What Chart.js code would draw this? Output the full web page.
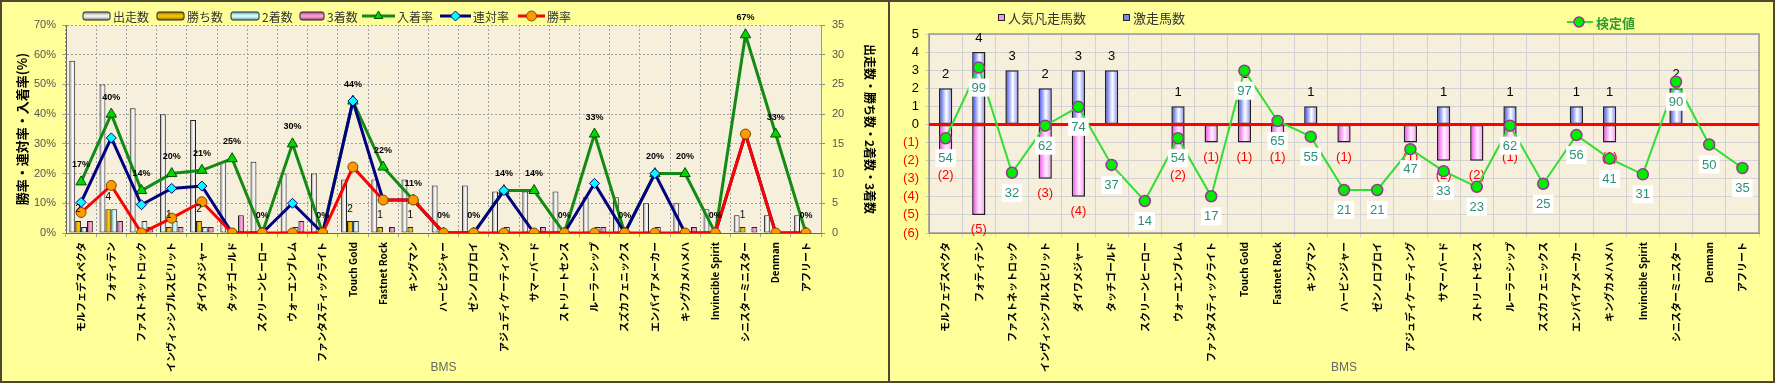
<!DOCTYPE html>
<html lang="ja">
<head>
<meta charset="utf-8">
<title>BMS</title>
<script src="https://cdn.jsdelivr.net/npm/chart.js@4.4.1/dist/chart.umd.min.js"></script>
<style>
  html, body { margin: 0; padding: 0; background: #FFFF99; }
  #wrap { position: relative; width: 1775px; height: 383px; overflow: hidden; }
  .panel { position: absolute; top: 0; height: 383px; box-sizing: border-box; border: 2px solid #4A4A30; background: #FFFF99; }
  #leftPanel { left: 0; width: 890px; }
  #rightPanel { left: 890px; width: 885px; border-left: none; }
  canvas { display: block; }
</style>
</head>
<body>
<div id="wrap">
  <div class="panel" id="leftPanel"><canvas id="bmsChart" width="886" height="379"></canvas></div>
  <div class="panel" id="rightPanel"><canvas id="scoreChart" width="883" height="379"></canvas></div>
</div>
<script>
const bmsNames = ['モルフェデスペクタ', 'フォティテン', 'ファストネットロック', 'インヴィンシブルスピリット', 'ダイワメジャー',
  'タッチゴールド', 'スクリーンヒーロー', 'ウォーエンブレム', 'ファンタスティックライト', 'Touch Gold', 'Fastnet Rock',
  'キングマン', 'ハービンジャー', 'ゼンノロブロイ', 'アジュディケーティング', 'サマーバード', 'ストリートセンス',
  'ルーラーシップ', 'スズカフェニックス', 'エンパイアメーカー', 'キングカメハメハ', 'Invincible Spirit',
  'シニスターミニスター', 'Denman', 'アフリート'];

// left chart - counts (right axis)
const starts  = [29, 25, 21, 20, 19, 12, 12, 10, 10, 9, 9, 9, 8, 8, 7, 7, 7, 6, 6, 5, 5, 4, 3, 3, 3];
const wins    = [2, 4, 0, 1, 2, 0, 0, 0, 0, 2, 1, 1, 0, 0, 0, 0, 0, 0, 0, 0, 0, 0, 1, 0, 0];
const seconds = [1, 4, 2, 2, 1, 0, 0, 1, 0, 2, 0, 0, 0, 0, 1, 0, 0, 1, 0, 1, 0, 0, 0, 0, 0];
const thirds  = [2, 2, 1, 1, 1, 3, 0, 2, 0, 0, 1, 0, 0, 0, 0, 1, 0, 1, 0, 0, 1, 0, 1, 0, 0];
// left chart - rates in % (left axis)
const placeRate  = [17.2, 40, 14.3, 20, 21.1, 25, 0, 30, 0, 44.4, 22.2, 11.1, 0, 0, 14.3, 14.3, 0, 33.3, 0, 20, 20, 0, 66.7, 33.3, 0];
const rentaiRate = [10.3, 32, 9.5, 15, 15.8, 0, 0, 10, 0, 44.4, 11.1, 11.1, 0, 0, 14.3, 0, 0, 16.7, 0, 20, 0, 0, 33.3, 0, 0];
const winRate    = [6.9, 16, 0, 5, 10.5, 0, 0, 0, 0, 22.2, 11.1, 11.1, 0, 0, 0, 0, 0, 0, 0, 0, 0, 0, 33.3, 0, 0];

// right chart
const hitCounts  = [2, 4, 3, 2, 3, 3, 0, 1, 0, 2, 0, 1, 0, 0, 0, 1, 0, 1, 0, 1, 1, 0, 2, 0, 0];
const flopCounts = [-2, -5, 0, -3, -4, 0, 0, -2, -1, -1, -1, 0, -1, 0, -1, -2, -2, -1, 0, 0, -1, 0, 0, 0, 0];
const scores     = [54, 99, 32, 62, 74, 37, 14, 54, 17, 97, 65, 55, 21, 21, 47, 33, 23, 62, 25, 56, 41, 31, 90, 50, 35];
const diffTickLabels = ['(6)', '(5)', '(4)', '(3)', '(2)', '(1)', '0', '1', '2', '3', '4', '5'];

Chart.defaults.font.family = '"Noto Sans CJK JP", "Noto Sans", sans-serif';
Chart.defaults.animation = false;
const numFont = '"Liberation Sans", Arial, sans-serif';

// bar colours: edge, centre, other edge
const startCol  = ['#8E8E8E', '#FFFFFF', '#C8C8C8'];
const winCol    = ['#9C7400', '#FFCC00', '#C89800'];
const secondCol = ['#6AAFC0', '#E4FFFF', '#A8DDE8'];
const thirdCol  = ['#B0488C', '#FFA8DC', '#D878B8'];
const hitCol    = ['#2F40F0', '#FFFFFF', '#7C86F2'];
const flopCol   = ['#F040E8', '#FFF0FF', '#F890F0'];

function barGradient(colors, slot, slots, groupFrac) {
  return function (c) {
    const chart = c.chart;
    const xs = chart.scales.x;
    if (c.type !== 'data' || !chart.chartArea || !xs) return colors[1];
    const groupW = xs.width / bmsNames.length * groupFrac;
    const w = groupW / slots;
    const left = xs.getPixelForValue(c.dataIndex) - groupW / 2 + slot * w;
    const g = chart.ctx.createLinearGradient(left, 0, left + w, 0);
    g.addColorStop(0, colors[0]);
    g.addColorStop(0.55, colors[1]);
    g.addColorStop(1, colors[2]);
    return g;
  };
}

const plotBackground = {
  id: 'plotBackground',
  beforeDraw(chart) {
    const {ctx, chartArea: a} = chart;
    ctx.save();
    ctx.fillStyle = '#F6EFDB';
    ctx.fillRect(a.left, a.top, a.width, a.height);
    ctx.restore();
  }
};

function legendBar(ctx, x, y, w, h, colors) {
  const g = ctx.createLinearGradient(0, y - h / 2, 0, y + h / 2);
  g.addColorStop(0, colors[0]);
  g.addColorStop(0.5, colors[1]);
  g.addColorStop(1, colors[0]);
  ctx.fillStyle = g;
  ctx.strokeStyle = '#222';
  ctx.lineWidth = 1;
  ctx.beginPath();
  ctx.roundRect(x, y - h / 2, w, h, 2);
  ctx.fill();
  ctx.stroke();
}

function legendLine(ctx, x, y, w, d) {
  ctx.strokeStyle = d.borderColor;
  ctx.lineWidth = d.borderWidth;
  ctx.beginPath();
  ctx.moveTo(x, y);
  ctx.lineTo(x + w, y);
  ctx.stroke();
  ctx.fillStyle = d.pointBackgroundColor;
  ctx.strokeStyle = d.pointBorderColor;
  ctx.lineWidth = 1;
  Chart.helpers.drawPoint(ctx, {pointStyle: d.pointStyle, rotation: 0, radius: 5, borderWidth: 1}, x + w / 2, y);
}

// ---------------- left chart ----------------
const leftLegend = {
  id: 'leftLegend',
  afterDraw(chart) {
    const ctx = chart.ctx;
    const ds = chart.data.datasets;
    const y = 14;
    const items = [[0, 81, 111, startCol], [1, 155, 185, winCol], [2, 229, 260, secondCol], [3, 298, 325, thirdCol],
      [4, 360, 395], [5, 438, 471], [6, 516, 545]];
    ctx.save();
    ctx.font = '12px "Noto Sans CJK JP", sans-serif';
    ctx.textBaseline = 'middle';
    items.forEach(([i, x, tx, col]) => {
      const d = ds[i];
      if (d.type === 'line') legendLine(ctx, x, y, tx - x - 2, d);
      else legendBar(ctx, x, y, tx - x - 3, 8, col);
      ctx.fillStyle = '#333';
      ctx.fillText(d.label, tx, y + 1);
    });
    ctx.restore();
  }
};

const leftLabels = {
  id: 'leftLabels',
  afterDatasetsDraw(chart) {
    const ctx = chart.ctx;
    ctx.save();
    ctx.textAlign = 'center';
    ctx.textBaseline = 'middle';
    ctx.fillStyle = '#000';
    ctx.font = 'bold 9px ' + numFont;
    chart.getDatasetMeta(4).data.forEach((pt, i) => {
      ctx.fillText(Math.round(placeRate[i]) + '%', pt.x, pt.y - 17);
    });
    ctx.font = '10px ' + numFont;
    chart.getDatasetMeta(1).data.forEach((bar, i) => {
      if (wins[i] > 0) ctx.fillText(wins[i], bar.x, bar.y - 12);
    });
    ctx.restore();
  }
};

const dotted = {color: '#A0A0A0', lineWidth: 1, tickLength: 4};

new Chart(document.getElementById('bmsChart').getContext('2d'), {
  type: 'bar',
  data: {
    labels: bmsNames,
    datasets: [
      {label: '出走数', data: starts, yAxisID: 'y1', backgroundColor: barGradient(startCol, 0, 4, 0.78), order: 4},
      {label: '勝ち数', data: wins, yAxisID: 'y1', backgroundColor: barGradient(winCol, 1, 4, 0.78), order: 4},
      {label: '2着数', data: seconds, yAxisID: 'y1', backgroundColor: barGradient(secondCol, 2, 4, 0.78), order: 4},
      {label: '3着数', data: thirds, yAxisID: 'y1', backgroundColor: barGradient(thirdCol, 3, 4, 0.78), order: 4},
      {type: 'line', label: '入着率', data: placeRate, yAxisID: 'y', borderColor: '#138A13', borderWidth: 3,
        pointStyle: 'triangle', pointRadius: 6, pointBackgroundColor: '#00D800', pointBorderColor: '#005000', pointBorderWidth: 1, order: 3},
      {type: 'line', label: '連対率', data: rentaiRate, yAxisID: 'y', borderColor: '#000080', borderWidth: 3,
        pointStyle: 'rectRot', pointRadius: 5, pointBackgroundColor: '#00FFFF', pointBorderColor: '#000080', pointBorderWidth: 1, order: 2},
      {type: 'line', label: '勝率', data: winRate, yAxisID: 'y', borderColor: '#FF0000', borderWidth: 3,
        pointStyle: 'circle', pointRadius: 5, pointBackgroundColor: '#FF9900', pointBorderColor: '#7A4A00', pointBorderWidth: 1, order: 1}
    ].map(d => d.type === 'line' ? d : Object.assign(d, {borderColor: '#222', borderWidth: 1, borderSkipped: false,
      categoryPercentage: 0.78, barPercentage: 1.0}))
  },
  options: {
    responsive: false,
    layout: {padding: {top: 23, left: 0, right: 0, bottom: 0}},
    plugins: {legend: {display: false}, tooltip: {enabled: false}},
    scales: {
      x: {
        afterFit: s => { s.height = 148; },
        grid: dotted,
        border: {color: '#666', dash: [2, 2]},
        ticks: {autoSkip: false, minRotation: 90, maxRotation: 90, padding: 5, color: '#000', font: {size: 10, weight: 'bold'}},
        title: {display: true, text: 'BMS', color: '#666', font: {size: 12, family: numFont}, padding: {top: 0, bottom: 6}}
      },
      y: {
        position: 'left', min: 0, max: 70,
        afterFit: s => { s.width = 64; },
        grid: dotted,
        border: {color: '#666', dash: [2, 2]},
        ticks: {stepSize: 10, autoSkip: false, padding: 6, color: '#555', font: {size: 11, family: numFont}, callback: v => v + '%'},
        title: {display: true, text: '勝率・連対率・入着率(%)', color: '#000', font: {size: 13, weight: 'bold'}, padding: {top: 12, bottom: 0}}
      },
      y1: {
        position: 'right', min: 0, max: 35,
        afterFit: s => { s.width = 67; },
        grid: {drawOnChartArea: false, tickLength: 4, color: '#888'},
        border: {color: '#999'},
        ticks: {stepSize: 5, autoSkip: false, padding: 7, color: '#555', font: {size: 11, family: numFont}},
        title: {display: true, text: '出走数・勝ち数・2着数・3着数', color: '#000', font: {size: 12, weight: 'bold'}, padding: {top: 11, bottom: 0}}
      }
    }
  },
  plugins: [plotBackground, leftLegend, leftLabels]
});

// ---------------- right chart ----------------
const rightLegend = {
  id: 'rightLegend',
  afterDraw(chart) {
    const ctx = chart.ctx;
    const line = chart.data.datasets[2];
    ctx.save();
    ctx.textBaseline = 'middle';
    ctx.font = '13px "Noto Sans CJK JP", sans-serif';
    [[flopCol, 108, '人気凡走馬数'], [hitCol, 233, '激走馬数']].forEach(([c, x, t]) => {
      ctx.fillStyle = c[2];
      ctx.strokeStyle = '#222';
      ctx.lineWidth = 1;
      ctx.fillRect(x, 12, 7, 7);
      ctx.strokeRect(x + 0.5, 12.5, 6, 6);
      ctx.fillStyle = '#333';
      ctx.fillText(t, x + 10, 16);
    });
    ctx.strokeStyle = line.borderColor;
    ctx.lineWidth = 2;
    ctx.beginPath();
    ctx.moveTo(677, 20);
    ctx.lineTo(703, 20);
    ctx.stroke();
    ctx.fillStyle = line.pointBackgroundColor;
    ctx.strokeStyle = line.pointBorderColor;
    ctx.lineWidth = 1.5;
    Chart.helpers.drawPoint(ctx, {pointStyle: 'circle', rotation: 0, radius: 5, borderWidth: 1.5}, 689, 20);
    ctx.font = 'bold 13px "Noto Sans CJK JP", sans-serif';
    ctx.fillStyle = '#2E9B2E';
    ctx.fillText(line.label, 706, 21);
    ctx.restore();
  }
};

const scoreLabels = {
  id: 'scoreLabels',
  beforeDatasetsDraw(chart) {
    const {ctx, chartArea: a} = chart;
    ctx.save();
    ctx.strokeStyle = '#999';
    ctx.lineWidth = 1.5;
    ctx.strokeRect(a.left, a.top, a.width, a.height);
    ctx.restore();
  },
  afterDatasetDraw(chart, args) {
    if (args.index !== 0) return; // last bar dataset drawn
    const {ctx, chartArea: a, scales} = chart;
    const y0 = scales.y.getPixelForValue(0);
    ctx.save();
    ctx.strokeStyle = '#FF0000';
    ctx.lineWidth = 3;
    ctx.beginPath();
    ctx.moveTo(a.left, y0);
    ctx.lineTo(a.right, y0);
    ctx.stroke();
    ctx.font = '13px ' + numFont;
    ctx.textAlign = 'center';
    ctx.textBaseline = 'middle';
    ctx.fillStyle = '#000';
    chart.getDatasetMeta(1).data.forEach((bar, i) => {
      if (hitCounts[i] > 0) ctx.fillText(hitCounts[i], bar.x, bar.y - 14);
    });
    ctx.fillStyle = '#FF0000';
    chart.getDatasetMeta(0).data.forEach((bar, i) => {
      if (flopCounts[i] < 0) ctx.fillText('(' + (-flopCounts[i]) + ')', bar.x, bar.y + 15);
    });
    ctx.restore();
  },
  afterDatasetsDraw(chart) {
    const ctx = chart.ctx;
    ctx.save();
    ctx.font = '13px ' + numFont;
    ctx.textAlign = 'center';
    ctx.textBaseline = 'middle';
    chart.getDatasetMeta(2).data.forEach((pt, i) => {
      const s = String(scores[i]);
      const w = ctx.measureText(s).width + 6;
      ctx.fillStyle = '#FFFFFF';
      ctx.fillRect(pt.x - w / 2, pt.y + 11, w, 18);
      ctx.fillStyle = '#2F8F74';
      ctx.fillText(s, pt.x, pt.y + 20.5);
    });
    ctx.restore();
  }
};

const lightGrid = {color: '#D2D2D2', lineWidth: 1, tickLength: 4};

new Chart(document.getElementById('scoreChart').getContext('2d'), {
  type: 'bar',
  data: {
    labels: bmsNames,
    datasets: [
      {label: '人気凡走馬数', data: flopCounts, backgroundColor: barGradient(flopCol, 0, 1, 0.4), order: 2},
      {label: '激走馬数', data: hitCounts, backgroundColor: barGradient(hitCol, 0, 1, 0.4), order: 2},
      {type: 'line', label: '検定値', data: scores, yAxisID: 'y2', borderColor: '#33DD33', borderWidth: 2,
        pointStyle: 'circle', pointRadius: 5.5, pointBackgroundColor: '#00EE00', pointBorderColor: '#993399', pointBorderWidth: 1.5, order: 1}
    ].map(d => d.type === 'line' ? d : Object.assign(d, {borderColor: '#222', borderWidth: 1.5, borderSkipped: false,
      categoryPercentage: 1.0, barPercentage: 0.4}))
  },
  options: {
    responsive: false,
    layout: {padding: {top: 32, left: 0, right: 14, bottom: 0}},
    plugins: {legend: {display: false}, tooltip: {enabled: false}},
    scales: {
      x: {
        stacked: true,
        afterFit: s => { s.height = 148; },
        grid: lightGrid,
        border: {color: '#777'},
        ticks: {autoSkip: false, minRotation: 90, maxRotation: 90, padding: 5, color: '#000', font: {size: 10, weight: 'bold'}},
        title: {display: true, text: 'BMS', color: '#666', font: {size: 12, family: numFont}, padding: {top: 0, bottom: 6}}
      },
      y: {
        stacked: true, min: -6, max: 5,
        afterFit: s => { s.width = 39; },
        grid: lightGrid,
        border: {color: '#777'},
        ticks: {stepSize: 1, autoSkip: false, padding: 6, font: {size: 13, family: numFont},
          color: c => c.tick && c.tick.value < 0 ? '#FF0000' : '#000',
          callback: v => diffTickLabels[v + 6]}
      },
      y2: {type: 'linear', display: false, min: -6.4, max: 120.4}
    }
  },
  plugins: [plotBackground, rightLegend, scoreLabels]
});
</script>
</body>
</html>
